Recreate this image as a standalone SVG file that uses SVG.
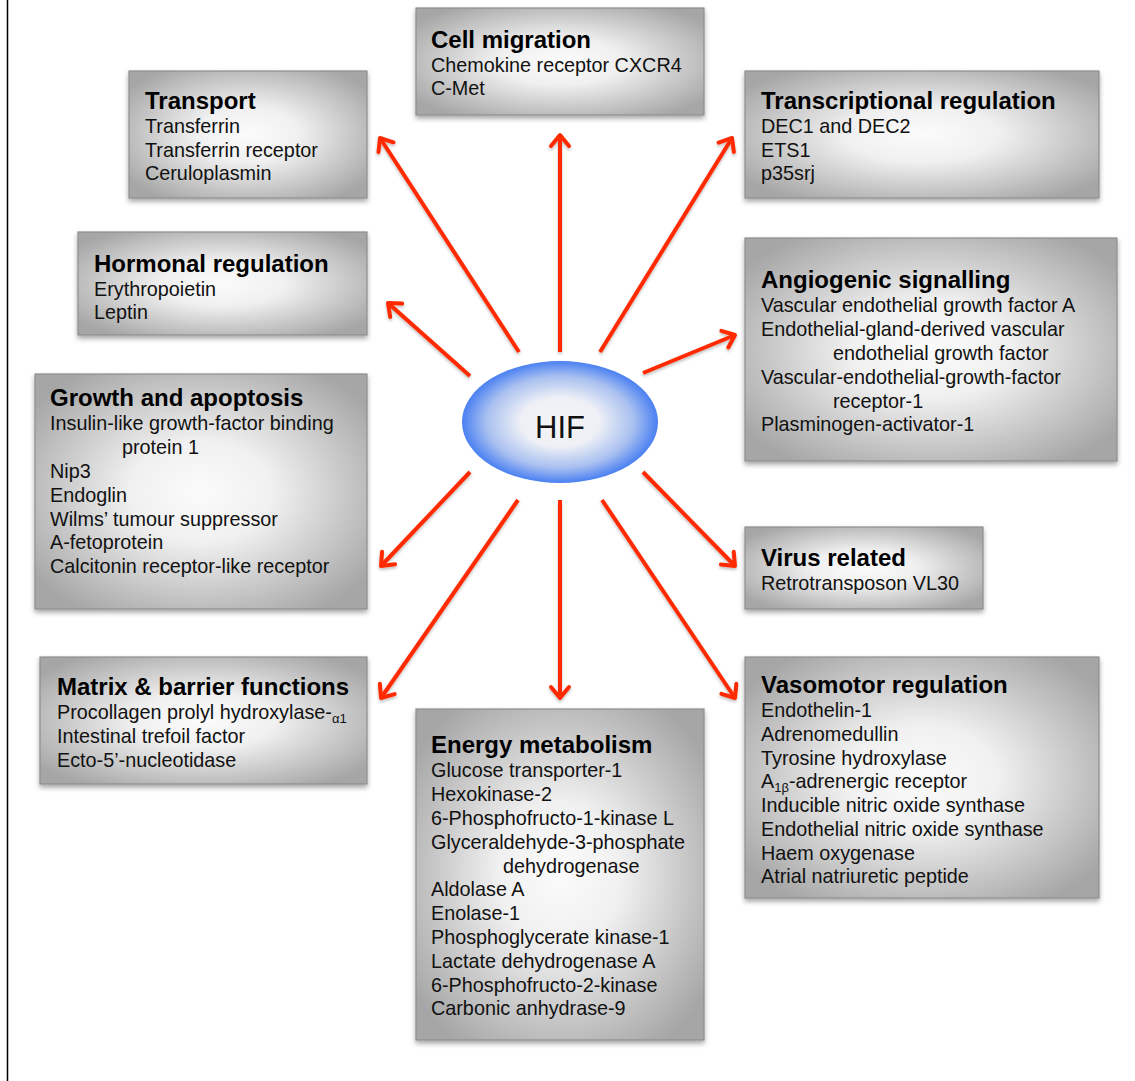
<svg xmlns="http://www.w3.org/2000/svg" width="1135" height="1081" viewBox="0 0 1135 1081">
<defs>
<radialGradient id="boxg" cx="0.5" cy="0.5" r="0.62">
<stop offset="0" stop-color="#fbfbfb"/>
<stop offset="0.35" stop-color="#f0f0f0"/>
<stop offset="1" stop-color="#a6a6a6"/>
</radialGradient>
<radialGradient id="hifg" cx="0.5" cy="0.5" r="0.5">
<stop offset="0" stop-color="#f4f4f4"/>
<stop offset="0.4" stop-color="#eef0f6"/>
<stop offset="0.75" stop-color="#a9c0f0"/>
<stop offset="1" stop-color="#4a80f2"/>
</radialGradient>
<filter id="sh" x="-10%" y="-10%" width="120%" height="125%">
<feDropShadow dx="0" dy="3" stdDeviation="2.5" flood-color="#000" flood-opacity="0.35"/>
</filter>
<filter id="ash" x="-20%" y="-20%" width="140%" height="140%">
<feDropShadow dx="0" dy="2" stdDeviation="1.5" flood-color="#000" flood-opacity="0.25"/>
</filter>
<marker id="arr" markerUnits="userSpaceOnUse" viewBox="-16 -13 20 26" markerWidth="20" markerHeight="26" refX="0" refY="0" orient="auto">
<path d="M-11,-9 L0,0 L-11,9" fill="none" stroke="#ff2a00" stroke-width="4" stroke-linecap="round" stroke-linejoin="round"/>
</marker>
</defs>
<style>
.box{fill:url(#boxg);stroke:#8e8e8e;stroke-width:1.2;filter:url(#sh)}
.t{font-family:"Liberation Sans",Arial,sans-serif;font-size:24px;font-weight:bold;fill:#000}
.b{font-family:"Liberation Sans",Arial,sans-serif;font-size:19.8px;fill:#111}
.sub{font-size:13px}
.c{fill:none;stroke:#ff2a00;stroke-width:4;stroke-linecap:butt;marker-end:url(#arr)}
</style>
<rect width="1135" height="1081" fill="#fff"/>
<line x1="7.5" y1="0" x2="7.5" y2="1081" stroke="#000" stroke-width="1.5"/>

<g id="connectors" filter="url(#ash)">
<line class="c" x1="560" y1="352" x2="560" y2="135"/>
<line class="c" x1="519" y1="352" x2="380" y2="138"/>
<line class="c" x1="600" y1="352" x2="732" y2="138"/>
<line class="c" x1="470" y1="376" x2="388" y2="303"/>
<line class="c" x1="643" y1="373" x2="735" y2="335"/>
<line class="c" x1="470" y1="472" x2="381" y2="566"/>
<line class="c" x1="518" y1="500" x2="381" y2="698"/>
<line class="c" x1="560" y1="500" x2="560" y2="698"/>
<line class="c" x1="602" y1="500" x2="735" y2="698"/>
<line class="c" x1="643" y1="472" x2="735" y2="566"/>
</g>

<g id="hif">
<ellipse cx="560" cy="422" rx="98" ry="61" fill="url(#hifg)"/>
<text x="560" y="438" text-anchor="middle" font-family="'Liberation Sans',Arial,sans-serif" font-size="31" fill="#111">HIF</text>
</g>

<g id="cell-migration">
<rect class="box" x="416" y="8" width="288" height="107"/>
<text class="t" x="431" y="48">Cell migration</text>
<text class="b" x="431" y="72">Chemokine receptor CXCR4</text>
<text class="b" x="431" y="95">C-Met</text>
</g>

<g id="transport">
<rect class="box" x="129" y="71" width="238" height="127"/>
<text class="t" x="145" y="109">Transport</text>
<text class="b" x="145" y="133">Transferrin</text>
<text class="b" x="145" y="157">Transferrin receptor</text>
<text class="b" x="145" y="180">Ceruloplasmin</text>
</g>

<g id="transcriptional-regulation">
<rect class="box" x="745" y="71" width="354" height="127"/>
<text class="t" x="761" y="109">Transcriptional regulation</text>
<text class="b" x="761" y="133">DEC1 and DEC2</text>
<text class="b" x="761" y="157">ETS1</text>
<text class="b" x="761" y="180">p35srj</text>
</g>

<g id="hormonal-regulation">
<rect class="box" x="78" y="232" width="289" height="103"/>
<text class="t" x="94" y="272">Hormonal regulation</text>
<text class="b" x="94" y="296">Erythropoietin</text>
<text class="b" x="94" y="319">Leptin</text>
</g>

<g id="angiogenic-signalling">
<rect class="box" x="745" y="238" width="372" height="223"/>
<text class="t" x="761" y="288">Angiogenic signalling</text>
<text class="b" x="761" y="312">Vascular endothelial growth factor A</text>
<text class="b" x="761" y="336">Endothelial-gland-derived vascular</text>
<text class="b" x="833" y="360">endothelial growth factor</text>
<text class="b" x="761" y="384">Vascular-endothelial-growth-factor</text>
<text class="b" x="833" y="408">receptor-1</text>
<text class="b" x="761" y="431">Plasminogen-activator-1</text>
</g>

<g id="growth-apoptosis">
<rect class="box" x="35" y="374" width="332" height="235"/>
<text class="t" x="50" y="406">Growth and apoptosis</text>
<text class="b" x="50" y="430">Insulin-like growth-factor binding</text>
<text class="b" x="122" y="454">protein 1</text>
<text class="b" x="50" y="478">Nip3</text>
<text class="b" x="50" y="502">Endoglin</text>
<text class="b" x="50" y="526">Wilms’ tumour suppressor</text>
<text class="b" x="50" y="549">A-fetoprotein</text>
<text class="b" x="50" y="573">Calcitonin receptor-like receptor</text>
</g>

<g id="virus-related">
<rect class="box" x="745" y="527" width="238" height="82"/>
<text class="t" x="761" y="566">Virus related</text>
<text class="b" x="761" y="590">Retrotransposon VL30</text>
</g>

<g id="matrix-barrier">
<rect class="box" x="40" y="657" width="327" height="127"/>
<text class="t" x="57" y="695">Matrix &amp; barrier functions</text>
<text class="b" x="57" y="719">Procollagen prolyl hydroxylase-<tspan class="sub" dy="4">α1</tspan></text>
<text class="b" x="57" y="743">Intestinal trefoil factor</text>
<text class="b" x="57" y="767">Ecto-5’-nucleotidase</text>
</g>

<g id="energy-metabolism">
<rect class="box" x="416" y="709" width="288" height="331"/>
<text class="t" x="431" y="753">Energy metabolism</text>
<text class="b" x="431" y="777">Glucose transporter-1</text>
<text class="b" x="431" y="801">Hexokinase-2</text>
<text class="b" x="431" y="825">6-Phosphofructo-1-kinase L</text>
<text class="b" x="431" y="849">Glyceraldehyde-3-phosphate</text>
<text class="b" x="503" y="873">dehydrogenase</text>
<text class="b" x="431" y="896">Aldolase A</text>
<text class="b" x="431" y="920">Enolase-1</text>
<text class="b" x="431" y="944">Phosphoglycerate kinase-1</text>
<text class="b" x="431" y="968">Lactate dehydrogenase A</text>
<text class="b" x="431" y="992">6-Phosphofructo-2-kinase</text>
<text class="b" x="431" y="1015">Carbonic anhydrase-9</text>
</g>

<g id="vasomotor-regulation">
<rect class="box" x="745" y="657" width="354" height="241"/>
<text class="t" x="761" y="693">Vasomotor regulation</text>
<text class="b" x="761" y="717">Endothelin-1</text>
<text class="b" x="761" y="741">Adrenomedullin</text>
<text class="b" x="761" y="765">Tyrosine hydroxylase</text>
<text class="b" x="761" y="788">A<tspan class="sub" dy="4">1β</tspan><tspan dy="-4">-adrenergic receptor</tspan></text>
<text class="b" x="761" y="812">Inducible nitric oxide synthase</text>
<text class="b" x="761" y="836">Endothelial nitric oxide synthase</text>
<text class="b" x="761" y="860">Haem oxygenase</text>
<text class="b" x="761" y="883">Atrial natriuretic peptide</text>
</g>
</svg>
